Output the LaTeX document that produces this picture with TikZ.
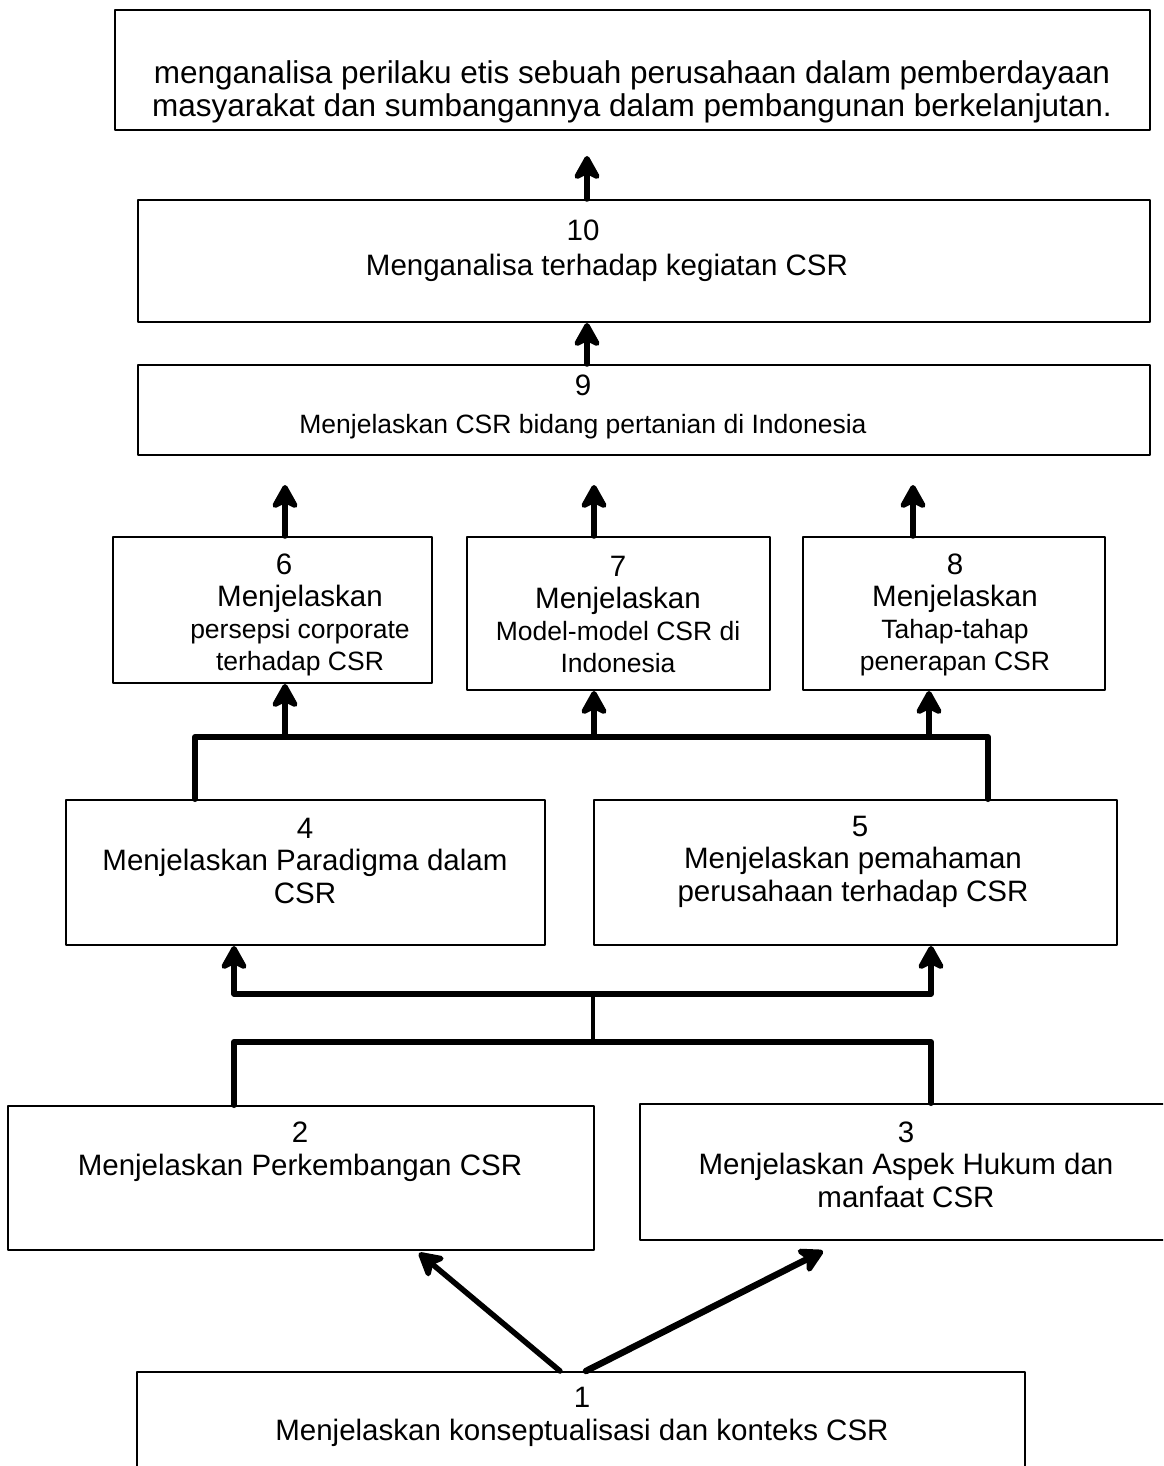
\documentclass[tikz,border=0pt]{standalone}
\usepackage{fontspec}
\setmainfont{Liberation Sans}
\usetikzlibrary{arrows.meta}
\newcommand{\bigtxt}{\fontsize{29.5}{33}\selectfont}
\newcommand{\smalltxt}{\fontsize{26.5}{32}\selectfont}
\begin{document}
\begin{tikzpicture}[x=1pt, y=-1pt, line cap=round, line join=round, >={Stealth[length=29pt, width=32pt, inset=8pt, round]}]
	\tikzset{box/.style={draw, line width=2pt, inner sep=0pt},
		txt/.style={align=center, inner sep=0pt},
		arr/.style={->, line width=5.5pt},
		bus/.style={line width=6pt}}
	\useasboundingbox (0,0) rectangle (1163,1466);
	\fill[white] (0,0) rectangle (1163,1466);
	\clip (0,0) rectangle (1163,1466);
	% boxes
	\node[box, minimum width=1035pt, minimum height=120pt] (goal) at (632.5,70) {};
	\node[box, minimum width=1012pt, minimum height=122pt] (b10) at (644,261) {};
	\node[box, minimum width=1012pt, minimum height=90pt] (b9) at (644,410) {};
	\node[box, minimum width=319pt, minimum height=146pt] (b6) at (272.5,610) {};
	\node[box, minimum width=303pt, minimum height=153pt] (b7) at (618.5,613.5) {};
	\node[box, minimum width=302pt, minimum height=153pt] (b8) at (954,613.5) {};
	\node[box, minimum width=479pt, minimum height=145pt] (b4) at (305.5,872.5) {};
	\node[box, minimum width=523pt, minimum height=145pt] (b5) at (855.5,872.5) {};
	\node[box, minimum width=586pt, minimum height=144pt] (b2) at (301,1178) {};
	\node[box, minimum width=560pt, minimum height=136pt] (b3) at (920,1172) {};
	\node[box, minimum width=888pt, minimum height=128pt] (b1) at (581,1436) {};
	% texts
	\node[txt, font=\fontsize{31.5}{32.5}\selectfont] (tgoal) at (632,92) {menganalisa perilaku etis sebuah perusahaan dalam pemberdayaan\\masyarakat dan sumbangannya dalam pembangunan berkelanjutan.};
	\node[txt, font=\fontsize{29.5}{35}\selectfont] (t10) at (607,250.5) {\hspace*{-48pt}10\\Menganalisa terhadap kegiatan CSR};
	\node[txt, font=\fontsize{26.5}{38}\selectfont] (t9) at (583,407) {{\bigtxt 9}\\Menjelaskan CSR bidang pertanian di Indonesia};
	\node[txt, font=\smalltxt] (t6) at (300,615) {{\bigtxt\hspace*{-32pt}6}\\{\bigtxt Menjelaskan}\\persepsi corporate\\terhadap CSR};
	\node[txt, font=\smalltxt] (t7) at (618,614) {{\bigtxt 7}\\{\bigtxt Menjelaskan}\\Model-model CSR di\\Indonesia};
	\node[txt, font=\smalltxt] (t8) at (955,615) {{\bigtxt 8}\\{\bigtxt Menjelaskan}\\Tahap-tahap\\penerapan CSR};
	\node[txt, font=\fontsize{29.5}{32.5}\selectfont] (t4) at (305,860.5) {4\\Menjelaskan Paradigma dalam\\CSR};
	\node[txt, font=\fontsize{29.5}{32.5}\selectfont] (t5) at (853,861.5) {\hspace*{14pt}5\\Menjelaskan pemahaman\\perusahaan terhadap CSR};
	\node[txt, font=\bigtxt] (t2) at (300,1152) {2\\Menjelaskan Perkembangan CSR};
	\node[txt, font=\fontsize{29.5}{32.5}\selectfont] (t3) at (906,1164.5) {3\\Menjelaskan Aspek Hukum dan\\manfaat CSR};
	\node[txt, font=\bigtxt] (t1) at (582,1417) {1\\Menjelaskan konseptualisasi dan konteks CSR};
	% junction points
	\coordinate (x6) at (285,485);
	\coordinate (x7) at (594,485);
	\coordinate (x8) at (913,485);
	\coordinate (f6) at (285,737);
	\coordinate (f7) at (594,737);
	\coordinate (f8) at (929,737);
	\coordinate (l4) at (195,737);
	\coordinate (r5) at (988,737);
	\coordinate (l4b) at (234,994);
	\coordinate (r5b) at (931,994);
	\coordinate (m45) at (593,994);
	\coordinate (m23) at (593,1042);
	\coordinate (l2) at (234,1042);
	\coordinate (r3) at (931,1042);
	% connectors
	\draw[arr] ([xshift=-57pt]b10.north) -- ([xshift=-45.5pt,yshift=-25pt]goal.south);
	\draw[arr] ([xshift=-57pt]b9.north) -- ([xshift=-57pt]b10.south);
	\foreach \n in {6,7,8}
		\draw[arr] (x\n |- b\n.north) -- (x\n);
	\draw[bus] (l4 |- b4.north) -- (l4) -- (r5) -- (r5 |- b5.north);
	\foreach \n in {6,7,8}
		\draw[arr] (f\n) -- (f\n |- b\n.south);
	\draw[<->, line width=5.5pt] (l4b |- b4.south) -- (l4b) -- (r5b) -- (r5b |- b5.south);
	\draw[line width=3.5pt] (m23) -- (m45);
	\draw[bus] (l2 |- b2.north) -- (l2) -- (r3) -- (r3 |- b3.north);
	\draw[arr] ([xshift=-21pt]b1.north) -- ([xshift=118pt,yshift=-2pt]b2.south);
	\draw[arr, line width=6.5pt] ([xshift=5pt]b1.north) -- ([xshift=-97pt,yshift=-10pt]b3.south);
\end{tikzpicture}
\end{document}
